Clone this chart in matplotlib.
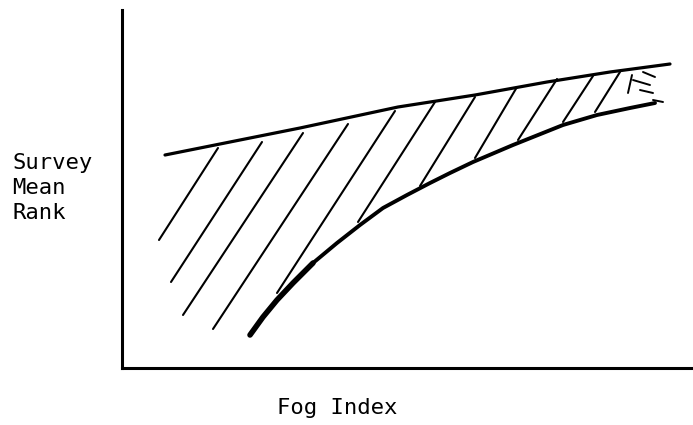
"""
Sketch: Survey Mean Rank vs Fog Index (hand-drawn band)
"""
import matplotlib.pyplot as plt

# upper edge of band
upper_x = [43, 108, 178, 276, 353, 425, 488, 548]
upper_y = [213, 226, 240, 261, 273, 286, 296, 304]

# lower edge of band
lower_x = [128, 141, 155, 171, 191, 215, 238, 261, 285, 308, 328, 351, 391, 441, 475, 508, 533]
lower_y = [33, 51, 68, 85, 105, 125, 143, 160, 173, 185, 195, 206, 223, 243, 253, 260, 265]

# hatch strokes: (x top, y top, x bottom, y bottom)
hatch_x0 = [96, 140, 181, 226, 273, 313, 353, 395, 435, 471, 498]
hatch_y0 = [220, 226, 235, 244, 257, 266, 271, 281, 289, 292, 296]
hatch_x1 = [37, 49, 61, 91, 155, 236, 298, 353, 396, 441, 473]
hatch_y1 = [128, 86, 53, 39, 75, 146, 182, 210, 228, 246, 256]

# scribbles at right end
scrib_x0 = [521, 511, 518, 531, 510]
scrib_y0 = [296, 288, 278, 268, 293]
scrib_x1 = [533, 528, 531, 541, 506]
scrib_y1 = [291, 283, 275, 266, 275]

fig = plt.figure(figsize=(6.93, 4.25), dpi=100)
ax = fig.add_axes([122 / 693, 57 / 425, 571 / 693, 358 / 425])
ax.set_xlim(0, 571)
ax.set_ylim(0, 358)

for s in ['top', 'right']:
    ax.spines[s].set_visible(False)
for s in ['left', 'bottom']:
    ax.spines[s].set_linewidth(2.2)
    ax.spines[s].set_color('black')
ax.set_xticks([])
ax.set_yticks([])

ax.plot(upper_x, upper_y, color='black', lw=2.3,
        solid_capstyle='round', solid_joinstyle='round')
ax.plot(lower_x, lower_y, color='black', lw=2.8,
        solid_capstyle='round', solid_joinstyle='round')
# brush is heavier where the stroke starts
ax.plot(lower_x[:5], lower_y[:5], color='black', lw=4.0,
        solid_capstyle='round', solid_joinstyle='round')

for x0, y0, x1, y1 in zip(hatch_x0, hatch_y0, hatch_x1, hatch_y1):
    ax.plot([x0, x1], [y0, y1], color='black', lw=1.5, solid_capstyle='round')

for x0, y0, x1, y1 in zip(scrib_x0, scrib_y0, scrib_x1, scrib_y1):
    ax.plot([x0, x1], [y0, y1], color='black', lw=1.4, solid_capstyle='round')

fig.text(12 / 693, 1 - 153 / 425, 'Survey\nMean\nRank', ha='left', va='top',
         family='DejaVu Sans Mono', fontsize=16, linespacing=1.3)
fig.text(337 / 693, 1 - 408 / 425, 'Fog Index', ha='center', va='center',
         family='DejaVu Sans Mono', fontsize=16)

plt.savefig('out.png', dpi=100)
plt.close()
